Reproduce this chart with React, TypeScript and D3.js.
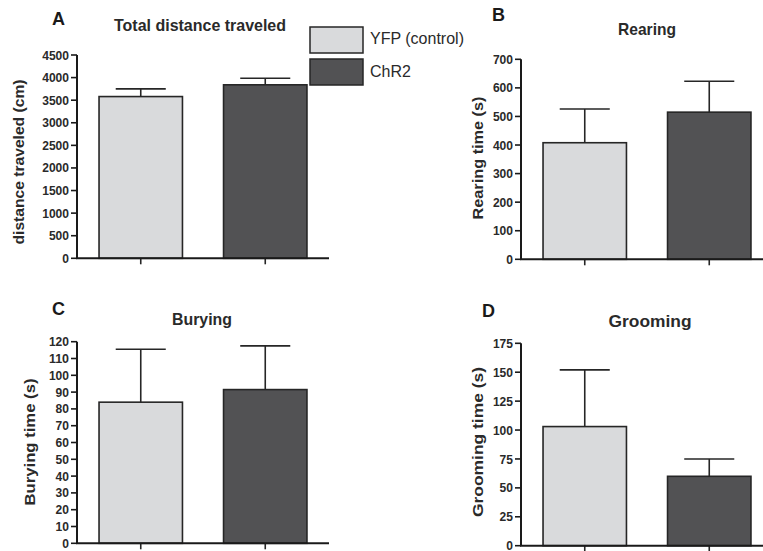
import React from "react";
import * as d3 from "d3";

const groups = ["YFP (control)", "ChR2"];
const distanceMean = [3580, 3840];
const distanceSem = [170, 145];
const rearingMean = [408, 515];
const rearingSem = [118, 108];
const buryingMean = [84, 91.5];
const buryingSem = [31.5, 26];
const groomingMean = [103, 60];
const groomingSem = [49, 15];

const distanceTicks = d3.range(0, 4501, 500);
const rearingTicks = d3.range(0, 701, 100);
const buryingTicks = d3.range(0, 121, 10);
const groomingTicks = d3.range(0, 176, 25);

const colors = ["#d9dadc", "#525254"];
const stroke = "#262626";
const font = "Liberation Sans, Arial, Helvetica, sans-serif";

type PanelProps = {
  letter: string;
  title: string;
  titleLen: number;
  ylabel: string;
  ylabelLen: number;
  means: number[];
  sems: number[];
  ticks: number[];
  x0: number;
  yTop: number;
  yBot: number;
  letterX: number;
  letterY: number;
  titleX: number;
  titleY: number;
  labelX: number;
  labelY: number;
};

function Panel(p: PanelProps) {
  const max = p.ticks[p.ticks.length - 1];
  const y = d3.scaleLinear().domain([0, max]).range([p.yBot, p.yTop]);
  const x = d3
    .scaleBand<string>()
    .domain(groups)
    .range([p.x0, p.x0 + 252])
    .paddingInner(0.33)
    .paddingOuter(0.177);
  const bw = x.bandwidth();
  const capW = bw * 0.6;
  return (
    <g>
      <text x={p.letterX} y={p.letterY} fontFamily={font} fontWeight="bold" fontSize={18} fill="#1a1a1a">
        {p.letter}
      </text>
      <text x={p.titleX} y={p.titleY} textAnchor="middle" fontFamily={font} fontWeight="bold" fontSize={17}
        fill="#2a2a2a" textLength={p.titleLen} lengthAdjust="spacingAndGlyphs">
        {p.title}
      </text>
      <text
        transform={`translate(${p.labelX},${p.labelY}) rotate(-90)`}
        textAnchor="middle"
        dy="0.35em"
        fontFamily={font}
        fontWeight="bold"
        fontSize={14}
        fill="#2a2a2a"
        textLength={p.ylabelLen}
        lengthAdjust="spacingAndGlyphs"
      >
        {p.ylabel}
      </text>
      {groups.map((g, i) => {
        const x1 = x(g)!;
        const cx = x1 + bw / 2;
        return (
          <g key={g}>
            <rect x={x1} y={y(p.means[i])} width={bw} height={p.yBot - y(p.means[i])} fill={colors[i]} stroke={stroke} strokeWidth={1.6} />
            <line x1={cx} x2={cx} y1={y(p.means[i])} y2={y(p.means[i] + p.sems[i])} stroke={stroke} strokeWidth={1.6} />
            <line x1={cx - capW / 2} x2={cx + capW / 2} y1={y(p.means[i] + p.sems[i])} y2={y(p.means[i] + p.sems[i])} stroke={stroke} strokeWidth={1.6} />
            <line x1={cx} x2={cx} y1={p.yBot} y2={p.yBot + 6} stroke={stroke} strokeWidth={1.6} />
          </g>
        );
      })}
      <line x1={p.x0} x2={p.x0} y1={p.yTop} y2={p.yBot} stroke="#1a1a1a" strokeWidth={2} />
      <line x1={p.x0 - 1} x2={p.x0 + 252} y1={p.yBot} y2={p.yBot} stroke="#1a1a1a" strokeWidth={2} />
      {p.ticks.map((t) => (
        <g key={t}>
          <line x1={p.x0 - 6} x2={p.x0} y1={y(t)} y2={y(t)} stroke="#1a1a1a" strokeWidth={1.6} />
          <text x={p.x0 - 8} y={y(t)} dy="0.35em" textAnchor="end" fontFamily={font} fontWeight="bold" fontSize={13}
            fill="#2a2a2a" textLength={String(t).length * 6.7} lengthAdjust="spacingAndGlyphs">
            {t}
          </text>
        </g>
      ))}
    </g>
  );
}

export default function App() {
  return (
    <svg width={763} height={551} style={{ position: "absolute", left: 0, top: 0, background: "#fff" }}>
      <rect width={763} height={551} fill="#fff" />
      <Panel letter="A" title="Total distance traveled" titleLen={172} ylabel="distance traveled (cm)" ylabelLen={165}
        means={distanceMean} sems={distanceSem} ticks={distanceTicks}
        x0={77} yTop={55} yBot={258.3} letterX={52} letterY={25} titleX={200} titleY={30.5}
        labelX={19} labelY={162} />
      <Panel letter="B" title="Rearing" titleLen={58} ylabel="Rearing time (s)" ylabelLen={123}
        means={rearingMean} sems={rearingSem} ticks={rearingTicks}
        x0={521} yTop={59.3} yBot={259.3} letterX={492} letterY={21} titleX={647} titleY={34.5}
        labelX={478} labelY={158} />
      <Panel letter="C" title="Burying" titleLen={60} ylabel="Burying time (s)" ylabelLen={127}
        means={buryingMean} sems={buryingSem} ticks={buryingTicks}
        x0={77} yTop={341.7} yBot={543.3} letterX={52} letterY={315} titleX={202} titleY={325}
        labelX={30} labelY={442} />
      <Panel letter="D" title="Grooming" titleLen={83} ylabel="Grooming time (s)" ylabelLen={150}
        means={groomingMean} sems={groomingSem} ticks={groomingTicks}
        x0={521} yTop={343.3} yBot={545.7} letterX={482} letterY={317} titleX={650} titleY={327}
        labelX={478} labelY={442} />
      {groups.map((g, i) => (
        <g key={g}>
          <rect x={310} y={27 + i * 32} width={53} height={26} fill={colors[i]} stroke={stroke} strokeWidth={1.5} />
          <text x={370} y={44 + i * 33} fontFamily={font} fontSize={16} fill="#2a2a2a">
            {g}
          </text>
        </g>
      ))}
    </svg>
  );
}
